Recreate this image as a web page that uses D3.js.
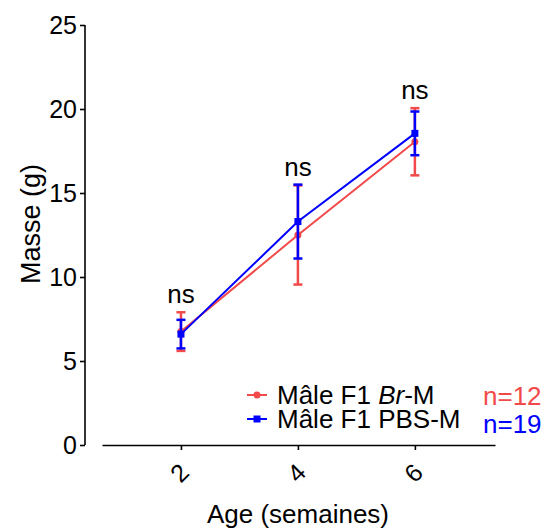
<!DOCTYPE html>
<html>
<head>
<meta charset="utf-8">
<script src="https://cdn.jsdelivr.net/npm/d3@7"></script>
<style>
body{margin:0;background:#fff;}
text{font-family:Arial,"Liberation Sans",sans-serif;}
</style>
</head>
<body>
<div id="plot"></div>
<script>
// data (mean +/- SD)
var ages = [2, 4, 6];
var brMean = [6.75, 12.5, 18.05];
var brSd = [1.15, 2.95, 2.0];
var pbsMean = [6.6, 13.3, 18.55];
var pbsSd = [0.85, 2.2, 1.3];
var sigLabels = ['ns', 'ns', 'ns'];
var yTicks = [0, 5, 10, 15, 20, 25];

var red = '#f24a4a', blue = '#0000ff';

var svg = d3.select('#plot').append('svg')
	.attr('width', 552)
	.attr('height', 532);

var x = d3.scaleLinear().domain([0.65, 7.37]).range([102, 495]);
var y = d3.scaleLinear().domain([0, 25]).range([445, 25]);

// y axis
var yAxis = svg.append('g')
	.attr('transform', 'translate(85,0)')
	.call(d3.axisLeft(y).tickValues(yTicks).tickSize(5).tickPadding(3));
yAxis.select('.domain').attr('stroke-width', 1.6).attr('d', 'M0,25V445');
yAxis.selectAll('.tick line').attr('stroke-width', 1.6);
yAxis.selectAll('.tick text').attr('font-size', 25).attr('fill', '#000');

// x axis
var xAxis = svg.append('g')
	.attr('transform', 'translate(0,445)')
	.call(d3.axisBottom(x).tickValues(ages).tickFormat(d3.format('d')).tickSize(5).tickSizeOuter(0));
xAxis.select('.domain').attr('stroke-width', 1.6);
xAxis.selectAll('.tick line').attr('stroke-width', 1.6);
xAxis.selectAll('.tick text')
	.attr('font-size', 25)
	.attr('fill', '#000')
	.attr('y', 0).attr('dy', '0.35em')
	.attr('text-anchor', 'middle')
	.attr('transform', 'translate(-2,28) rotate(-45)');

// axis titles
svg.append('text')
	.attr('transform', 'translate(40,224) rotate(-90)')
	.attr('text-anchor', 'middle')
	.attr('font-size', 27)
	.text('Masse (g)');
svg.append('text')
	.attr('x', 298).attr('y', 523)
	.attr('text-anchor', 'middle')
	.attr('font-size', 26)
	.text('Age (semaines)');

function drawSeries(means, sds, color, marker) {
	var pts = ages.map(function(a, i){ return {x:a, m:means[i], s:sds[i]}; });
	var g = svg.append('g');
	g.append('path')
		.datum(pts)
		.attr('fill', 'none')
		.attr('stroke', color)
		.attr('stroke-width', 2)
		.attr('d', d3.line().x(function(d){return x(d.x);}).y(function(d){return y(d.m);}));
	pts.forEach(function(d){
		var cx = x(d.x);
		g.append('line')
			.attr('x1', cx).attr('x2', cx)
			.attr('y1', y(d.m - d.s)).attr('y2', y(d.m + d.s))
			.attr('stroke', color).attr('stroke-width', 2.5);
		[d.m - d.s, d.m + d.s].forEach(function(v){
			g.append('line')
				.attr('x1', cx - 4.5).attr('x2', cx + 4.5)
				.attr('y1', y(v)).attr('y2', y(v))
				.attr('stroke', color).attr('stroke-width', 2.5);
		});
		if (marker == 'circle') {
			g.append('circle').attr('cx', cx).attr('cy', y(d.m)).attr('r', 3.5).attr('fill', color);
		} else {
			g.append('rect').attr('x', cx - 3.5).attr('y', y(d.m) - 3.5)
				.attr('width', 7).attr('height', 7).attr('fill', color);
		}
	});
}

drawSeries(brMean, brSd, red, 'circle');
drawSeries(pbsMean, pbsSd, blue, 'square');

// ns labels above the highest bar
ages.forEach(function(a, i){
	var top = Math.max(brMean[i] + brSd[i], pbsMean[i] + pbsSd[i]);
	svg.append('text')
		.attr('x', x(a)).attr('y', y(top) - 9)
		.attr('text-anchor', 'middle')
		.attr('font-size', 26)
		.text(sigLabels[i]);
});

// legend
var legend = [
	{label:['Mâle F1 ', 'Br', '-M'], color:red, marker:'circle', n:'n=12', y:395, ny:405},
	{label:['Mâle F1 PBS-M'], color:blue, marker:'square', n:'n=19', y:419, ny:433}
];
legend.forEach(function(l){
	svg.append('line')
		.attr('x1', 247).attr('x2', 267)
		.attr('y1', l.y).attr('y2', l.y)
		.attr('stroke', l.color).attr('stroke-width', 2);
	if (l.marker == 'circle') {
		svg.append('circle').attr('cx', 257).attr('cy', l.y).attr('r', 3.5).attr('fill', l.color);
	} else {
		svg.append('rect').attr('x', 253.5).attr('y', l.y - 3.5).attr('width', 7).attr('height', 7).attr('fill', l.color);
	}
	var t = svg.append('text').attr('x', 277).attr('y', l.y + 9).attr('font-size', 26);
	l.label.forEach(function(s, j){
		t.append('tspan').attr('font-style', (l.label.length > 1 && j == 1) ? 'italic' : 'normal').text(s);
	});
	svg.append('text')
		.attr('x', 483).attr('y', l.ny)
		.attr('font-size', 26)
		.attr('fill', l.color)
		.text(l.n);
});
</script>
</body>
</html>
